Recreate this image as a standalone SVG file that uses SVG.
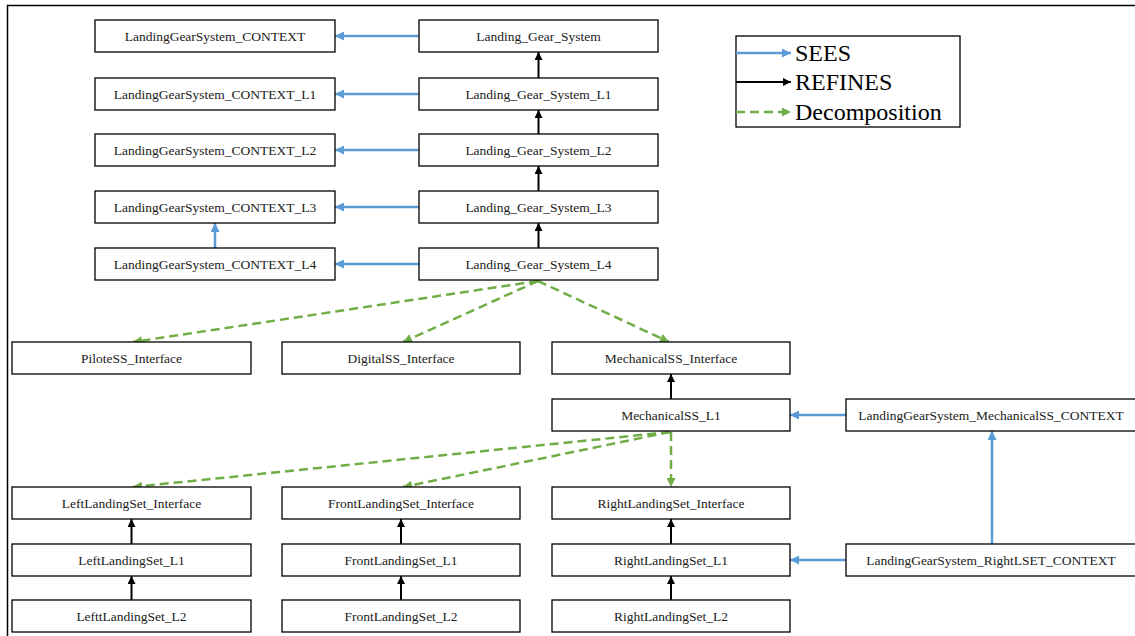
<svg xmlns="http://www.w3.org/2000/svg" width="1135" height="636" viewBox="0 0 1135 636">
<style>
.box{fill:#fff;stroke:#000;stroke-width:1.3}
.t{font-family:"Liberation Serif","Times New Roman",serif;font-size:13.5px;fill:#1a1a1a;text-anchor:middle;dominant-baseline:central}
.lg{font-family:"Liberation Serif","Times New Roman",serif;font-size:24px;fill:#000}
.sees{stroke:#5B9BD5;stroke-width:2.5;fill:none;marker-end:url(#mb)}
.ref{stroke:#000;stroke-width:2;fill:none;marker-end:url(#mk)}
.dec{stroke:#70AD47;stroke-width:2.5;fill:none;stroke-dasharray:9 5;marker-end:url(#mg)}
</style>
<defs>
<marker id="mb" viewBox="0 0 10 10" refX="10" refY="5" markerWidth="10" markerHeight="9" markerUnits="userSpaceOnUse" orient="auto"><path d="M0,0 L10,5 L0,10 z" fill="#5B9BD5"/></marker>
<marker id="mk" viewBox="0 0 10 10" refX="10" refY="5" markerWidth="9" markerHeight="8" markerUnits="userSpaceOnUse" orient="auto"><path d="M0,0 L10,5 L0,10 z" fill="#000"/></marker>
<marker id="mg" viewBox="0 0 10 10" refX="10" refY="5" markerWidth="10" markerHeight="9" markerUnits="userSpaceOnUse" orient="auto"><path d="M0,0 L10,5 L0,10 z" fill="#70AD47"/></marker>
</defs>
<rect x="0" y="0" width="1135" height="636" fill="#fff"/>
<rect x="7.5" y="5.5" width="1140" height="640" fill="none" stroke="#000" stroke-width="1.5"/>

<g id="connectors">
<line class="sees" x1="419" y1="36" x2="335" y2="36"/>
<line class="sees" x1="419" y1="94" x2="335" y2="94"/>
<line class="sees" x1="419" y1="150" x2="335" y2="150"/>
<line class="sees" x1="419" y1="207" x2="335" y2="207"/>
<line class="sees" x1="419" y1="264" x2="335" y2="264"/>
<line class="sees" x1="215" y1="248" x2="215" y2="223"/>
<line class="ref" x1="538.5" y1="78" x2="538.5" y2="52"/>
<line class="ref" x1="538.5" y1="134" x2="538.5" y2="110"/>
<line class="ref" x1="538.5" y1="191" x2="538.5" y2="166"/>
<line class="ref" x1="538.5" y1="248" x2="538.5" y2="223"/>
<line class="dec" x1="538" y1="281" x2="133" y2="342"/>
<line class="dec" x1="538" y1="281" x2="403" y2="342"/>
<line class="dec" x1="538" y1="281" x2="669" y2="342"/>
<line class="ref" x1="671" y1="399" x2="671" y2="374"/>
<line class="sees" x1="846" y1="415" x2="790" y2="415"/>
<line class="sees" x1="992" y1="544" x2="992" y2="431"/>
<line class="sees" x1="846" y1="560" x2="790" y2="560"/>
<line class="dec" x1="670" y1="432" x2="133" y2="487"/>
<line class="dec" x1="670" y1="432" x2="403" y2="487"/>
<line class="dec" x1="671" y1="432" x2="671" y2="487"/>
<line class="ref" x1="131.5" y1="544" x2="131.5" y2="519"/>
<line class="ref" x1="131.5" y1="600" x2="131.5" y2="576"/>
<line class="ref" x1="401" y1="544" x2="401" y2="519"/>
<line class="ref" x1="401" y1="600" x2="401" y2="576"/>
<line class="ref" x1="671" y1="544" x2="671" y2="519"/>
<line class="ref" x1="671" y1="600" x2="671" y2="576"/>
</g>

<g id="ctx0"><rect class="box" x="95" y="20" width="240" height="32"/><text class="t" x="215" y="36">LandingGearSystem_CONTEXT</text></g>
<g id="ctx1"><rect class="box" x="95" y="78" width="240" height="32"/><text class="t" x="215" y="94">LandingGearSystem_CONTEXT_L1</text></g>
<g id="ctx2"><rect class="box" x="95" y="134" width="240" height="32"/><text class="t" x="215" y="150">LandingGearSystem_CONTEXT_L2</text></g>
<g id="ctx3"><rect class="box" x="95" y="191" width="240" height="32"/><text class="t" x="215" y="207">LandingGearSystem_CONTEXT_L3</text></g>
<g id="ctx4"><rect class="box" x="95" y="248" width="240" height="32"/><text class="t" x="215" y="264">LandingGearSystem_CONTEXT_L4</text></g>

<g id="lgs0"><rect class="box" x="419" y="20" width="239" height="32"/><text class="t" x="538.5" y="36">Landing_Gear_System</text></g>
<g id="lgs1"><rect class="box" x="419" y="78" width="239" height="32"/><text class="t" x="538.5" y="94">Landing_Gear_System_L1</text></g>
<g id="lgs2"><rect class="box" x="419" y="134" width="239" height="32"/><text class="t" x="538.5" y="150">Landing_Gear_System_L2</text></g>
<g id="lgs3"><rect class="box" x="419" y="191" width="239" height="32"/><text class="t" x="538.5" y="207">Landing_Gear_System_L3</text></g>
<g id="lgs4"><rect class="box" x="419" y="248" width="239" height="32"/><text class="t" x="538.5" y="264">Landing_Gear_System_L4</text></g>

<g id="legend">
<rect x="736" y="36" width="224" height="91" fill="#fff" stroke="#000" stroke-width="1.3"/>
<line x1="736" y1="53" x2="791" y2="53" stroke="#5B9BD5" stroke-width="2.5" marker-end="url(#mb)"/>
<line x1="736" y1="82" x2="791" y2="82" stroke="#000" stroke-width="2" marker-end="url(#mk)"/>
<line x1="736" y1="112" x2="791" y2="112" stroke="#70AD47" stroke-width="2.5" stroke-dasharray="9 5" marker-end="url(#mg)"/>
<text class="lg" x="795" y="61">SEES</text>
<text class="lg" x="795" y="90">REFINES</text>
<text class="lg" x="795" y="120">Decomposition</text>
</g>

<g id="pilote"><rect class="box" x="12" y="342" width="239" height="32"/><text class="t" x="131.5" y="358">PiloteSS_Interface</text></g>
<g id="digital"><rect class="box" x="282" y="342" width="238" height="32"/><text class="t" x="401" y="358">DigitalSS_Interface</text></g>
<g id="mechI"><rect class="box" x="552" y="342" width="238" height="32"/><text class="t" x="671" y="358">MechanicalSS_Interface</text></g>
<g id="mechL1"><rect class="box" x="552" y="399" width="238" height="32"/><text class="t" x="671" y="415">MechanicalSS_L1</text></g>
<g id="mechCtx"><rect class="box" x="846" y="399" width="300" height="32"/><text class="t" x="991" y="415">LandingGearSystem_MechanicalSS_CONTEXT</text></g>

<g id="leftI"><rect class="box" x="12" y="487" width="239" height="32"/><text class="t" x="131.5" y="503">LeftLandingSet_Interface</text></g>
<g id="frontI"><rect class="box" x="282" y="487" width="238" height="32"/><text class="t" x="401" y="503">FrontLandingSet_Interface</text></g>
<g id="rightI"><rect class="box" x="552" y="487" width="238" height="32"/><text class="t" x="671" y="503">RightLandingSet_Interface</text></g>

<g id="leftL1"><rect class="box" x="12" y="544" width="239" height="32"/><text class="t" x="131.5" y="560">LeftLandingSet_L1</text></g>
<g id="frontL1"><rect class="box" x="282" y="544" width="238" height="32"/><text class="t" x="401" y="560">FrontLandingSet_L1</text></g>
<g id="rightL1"><rect class="box" x="552" y="544" width="238" height="32"/><text class="t" x="671" y="560">RightLandingSet_L1</text></g>
<g id="rightCtx"><rect class="box" x="846" y="544" width="300" height="32"/><text class="t" x="991" y="560">LandingGearSystem_RightLSET_CONTEXT</text></g>

<g id="leftL2"><rect class="box" x="12" y="600" width="239" height="32"/><text class="t" x="131.5" y="616">LefttLandingSet_L2</text></g>
<g id="frontL2"><rect class="box" x="282" y="600" width="238" height="32"/><text class="t" x="401" y="616">FrontLandingSet_L2</text></g>
<g id="rightL2"><rect class="box" x="552" y="600" width="238" height="32"/><text class="t" x="671" y="616">RightLandingSet_L2</text></g>
</svg>
